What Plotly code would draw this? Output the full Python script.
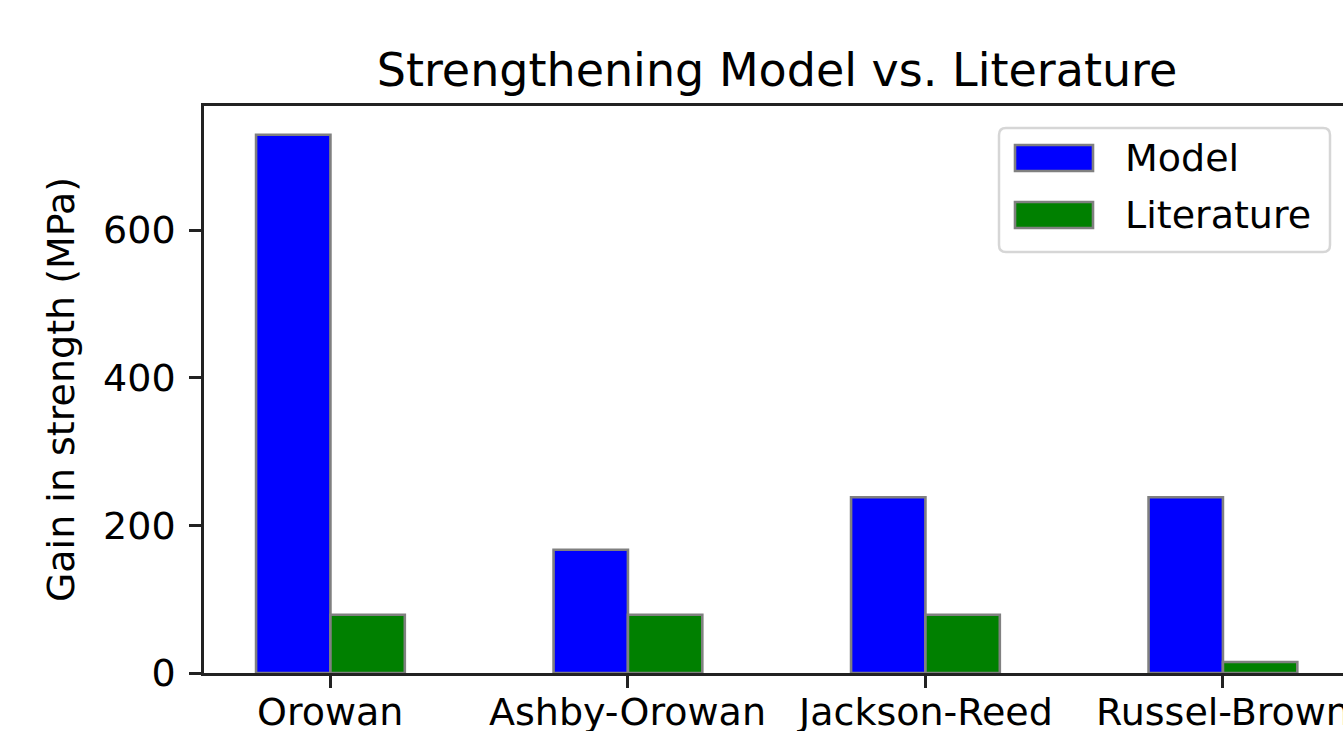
import plotly.graph_objects as go

# Strengthening mechanisms and their predicted / reported gains (MPa)
categories = ["Orowan", "Ashby-Orowan", "Jackson-Reed", "Russel-Brown"]
model_values = [729, 167, 238, 238]
literature_values = [79, 79, 79, 15]
series_names = ["Model", "Literature"]
series_colors = ["#0000ff", "#008000"]

W, H = 1343, 731
L, T, B = 204, 106, 673          # plot-area edges in pixels
R = W
PW, PH = R - L, B - T

FONT = "DejaVu Sans, Liberation Sans, sans-serif"
FS = 38
x_pos = list(range(len(categories)))
bar_w = 0.25

fig = go.Figure()
for name, vals, col, off in [
    (series_names[0], model_values, series_colors[0], -bar_w / 2),
    (series_names[1], literature_values, series_colors[1], bar_w / 2),
]:
    fig.add_trace(go.Bar(
        x=[p + off for p in x_pos], y=vals, width=bar_w, name=name,
        marker=dict(color=col, line=dict(color="#808080", width=2.6)),
        showlegend=False,
    ))

# x scale: matplotlib-like margins, plot area runs off the right edge
x_min = -0.425
px_per_unit = 297.5
x_max = x_min + PW / px_per_unit

fig.update_layout(
    width=W, height=H,
    margin=dict(l=L, r=W - R, t=T, b=H - B, pad=0),
    plot_bgcolor="white", paper_bgcolor="white",
    font=dict(family=FONT, size=FS, color="#000000"),
    title=dict(text="Strengthening Model vs. Literature", x=(L + 1350) / 2 / W, xanchor="center",
               y=1 - 70 / H, yanchor="middle", font=dict(size=46, family=FONT, color="#000000")),
    xaxis=dict(range=[x_min, x_max], tickmode="array", tickvals=x_pos, showticklabels=False,
               showgrid=False, zeroline=False, showline=True, linecolor="#222222", linewidth=2.6,
               mirror=True, ticks="outside", ticklen=12, tickwidth=2.6, tickcolor="#222222",
               automargin=False),
    yaxis=dict(range=[0, 768], tickvals=[0, 200, 400, 600], showgrid=False, zeroline=False,
               showline=True, linecolor="#222222", linewidth=2.6, mirror=False,
               ticks="outside", ticklen=12, tickwidth=2.6, tickcolor="#222222",
               ticklabelstandoff=6,
               automargin=False, tickfont=dict(size=FS, family=FONT, color="#000000"),
               title=dict(text="Gain in strength (MPa)", standoff=17,
                          font=dict(size=FS, family=FONT, color="#000000"))),
)

# Category labels under each tick (drawn as annotations so the last one is kept at the edge)
for xp, lab in zip(x_pos, categories):
    fig.add_annotation(text=lab, x=xp, xref="x", y=-(688 - B) / PH, yref="paper",
                       xanchor="center", yanchor="top", showarrow=False,
                       font=dict(size=FS, family=FONT, color="#000000"))


def px(x):
    return (x - L) / PW


def py(y):
    return (B - y) / PH


# Legend box with rounded corners
x0, x1, y0, y1, r = 999, 1330, 128, 252, 7
path = (f"M {px(x0 + r)} {py(y0)} L {px(x1 - r)} {py(y0)} Q {px(x1)} {py(y0)} {px(x1)} {py(y0 + r)} "
        f"L {px(x1)} {py(y1 - r)} Q {px(x1)} {py(y1)} {px(x1 - r)} {py(y1)} "
        f"L {px(x0 + r)} {py(y1)} Q {px(x0)} {py(y1)} {px(x0)} {py(y1 - r)} "
        f"L {px(x0)} {py(y0 + r)} Q {px(x0)} {py(y0)} {px(x0 + r)} {py(y0)} Z")
fig.add_shape(type="path", path=path, xref="paper", yref="paper",
              fillcolor="rgba(255,255,255,0.8)", line=dict(color="#d6d6d6", width=2.5))

for (name, col, yc) in [(series_names[0], series_colors[0], 158), (series_names[1], series_colors[1], 215)]:
    fig.add_shape(type="rect", xref="paper", yref="paper",
                  x0=px(1015), x1=px(1093), y0=py(yc - 13), y1=py(yc + 13),
                  fillcolor=col, line=dict(color="#808080", width=2.6))
    fig.add_annotation(text=name, xref="paper", yref="paper", x=px(1123), y=py(yc),
                       xanchor="left", yanchor="middle", showarrow=False,
                       font=dict(size=FS, family=FONT, color="#000000"))

fig.write_html("out.html")
